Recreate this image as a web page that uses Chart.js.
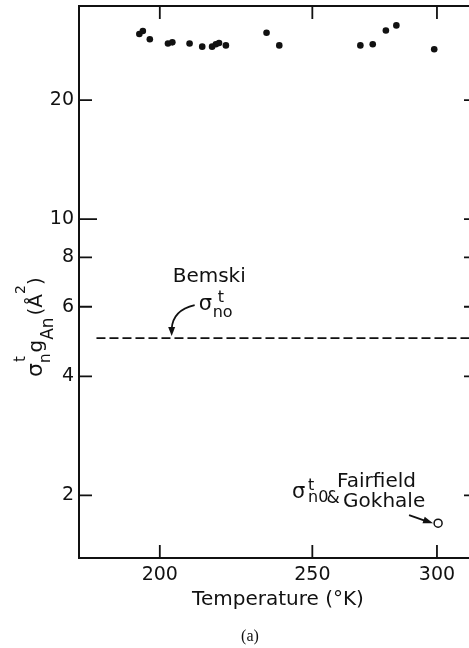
<!DOCTYPE html>
<html>
<head>
<meta charset="utf-8">
<script src="https://cdn.jsdelivr.net/npm/chart.js@4.4.1/dist/chart.umd.min.js"></script>
<style>
  html, body { margin: 0; padding: 0; background: #fff; overflow: hidden; }
  canvas { display: block; }
</style>
</head>
<body>
<canvas id="sigmaChart" width="490" height="648"></canvas>
<script>
// measured points (filled dots)
const tempMeasured = [194.1, 195.1, 197.1, 202.4, 203.7, 208.9, 212.8, 215.9, 217.1, 218.1, 220.3, 233.8, 238.2, 268.2, 273.1, 278.4, 282.7, 298.8];
const sigmaMeasured = [29.4, 29.9, 28.5, 27.8, 28.0, 27.8, 27.3, 27.3, 27.7, 27.9, 27.5, 29.6, 27.5, 27.5, 27.7, 30.0, 30.9, 26.9];

// Bemski value (dashed line)
const bemskiTemp = [182.3, 318];
const bemskiSigma = [5.0, 5.0];

// Fairfield & Gokhale (open circle)
const fgTemp = [300.5];
const fgSigma = [1.70];

const xTicks = [200, 250, 300];
const yTicks = [2, 4, 6, 8, 10, 20];
const xRange = [177.7, 318.1];
const yRange = [1.388, 34.6];

const INK = "#111";
const FONT = "DejaVu Sans";

function pairs(xs, ys) {
  return xs.map((v, i) => ({ x: v, y: ys[i] }));
}

function text(ctx, s, x, y, size) {
  ctx.font = size + 'px "' + FONT + '"';
  ctx.fillText(s, x, y);
  return ctx.measureText(s).width;
}

function arrowHead(ctx, x, y, angle, len, half) {
  ctx.save();
  ctx.translate(x, y);
  ctx.rotate(angle);
  ctx.beginPath();
  ctx.moveTo(0, 0);
  ctx.lineTo(-len, -half);
  ctx.lineTo(-len, half);
  ctx.closePath();
  ctx.fill();
  ctx.restore();
}

// frame and inward ticks on all four sides
const framePlugin = {
  id: "frame",
  afterDatasetsDraw(chart) {
    const { ctx, chartArea: a, scales: { x, y } } = chart;
    ctx.save();
    ctx.strokeStyle = INK;
    ctx.lineWidth = 2;
    ctx.strokeRect(a.left, a.top, a.right - a.left, a.bottom - a.top);
    ctx.lineWidth = 1.8;
    ctx.beginPath();
    xTicks.forEach(v => {
      const px = x.getPixelForValue(v);
      ctx.moveTo(px, a.bottom); ctx.lineTo(px, a.bottom - 13);
      ctx.moveTo(px, a.top); ctx.lineTo(px, a.top + 13);
    });
    yTicks.forEach(v => {
      const py = y.getPixelForValue(v);
      const len = v === 10 ? 18 : 13;
      ctx.moveTo(a.left, py); ctx.lineTo(a.left + len, py);
      ctx.moveTo(a.right, py); ctx.lineTo(a.right - 13, py);
    });
    ctx.stroke();
    ctx.restore();
  }
};

// labels, arrows, rotated y title and caption
const notesPlugin = {
  id: "notes",
  afterDraw(chart) {
    const { ctx, scales: { x, y } } = chart;
    ctx.save();
    ctx.fillStyle = INK;
    ctx.strokeStyle = INK;
    ctx.textBaseline = "alphabetic";
    ctx.textAlign = "left";

    // Bemski label
    const bx = x.getPixelForValue(203.5), by = y.getPixelForValue(bemskiSigma[0]);
    text(ctx, "Bemski", bx + 1, by - 56, 20);
    text(ctx, "σ", bx + 27, by - 28, 21);
    text(ctx, "t", bx + 46, by - 36, 16);
    text(ctx, "no", bx + 41, by - 21, 16);
    ctx.lineWidth = 1.8;
    ctx.beginPath();
    ctx.moveTo(bx + 23, by - 33);
    ctx.quadraticCurveTo(bx + 1, by - 28, bx, by - 9);
    ctx.stroke();
    arrowHead(ctx, bx, by - 2, Math.PI / 2, 9, 3.5);

    // Fairfield & Gokhale label
    const fx = x.getPixelForValue(fgTemp[0]), fy = y.getPixelForValue(fgSigma[0]);
    text(ctx, "Fairfield", fx - 101, fy - 36, 20);
    text(ctx, "Gokhale", fx - 95, fy - 16, 20);
    text(ctx, "σ", fx - 146, fy - 25, 21);
    text(ctx, "t", fx - 130, fy - 33, 16);
    const w = text(ctx, "n0", fx - 130, fy - 21, 16);
    text(ctx, "&", fx - 130 + w - 2, fy - 20, 17);
    ctx.beginPath();
    ctx.moveTo(fx - 29, fy - 8);
    ctx.lineTo(fx - 12, fy - 2);
    ctx.stroke();
    arrowHead(ctx, fx - 5, fy, Math.atan2(8, 24), 10, 3.5);

    // y axis title, rotated
    ctx.save();
    ctx.translate(42, 377);
    ctx.rotate(-Math.PI / 2);
    let cx = 0;
    cx += text(ctx, "σ", cx, 0, 22);
    const tw = text(ctx, "t", cx + 1, -17, 15);
    cx += Math.max(tw, text(ctx, "n", cx, 8, 15)) + 1;
    cx += text(ctx, "g", cx, 0, 20);
    cx += text(ctx, "An", cx, 11, 17) + 2;
    cx += text(ctx, "(", cx, 0, 20);
    cx += text(ctx, "Å", cx, 0, 20);
    cx += text(ctx, "2", cx, -17, 14);
    text(ctx, ")", cx, 0, 20);
    ctx.restore();

    // caption
    ctx.textAlign = "center";
    ctx.font = '16px "Liberation Serif"';
    ctx.fillText("(a)", 250, 641);
    ctx.restore();
  }
};

const ctx = document.getElementById("sigmaChart").getContext("2d");
Chart.defaults.font.family = FONT;
Chart.defaults.color = INK;

new Chart(ctx, {
  type: "scatter",
  data: {
    datasets: [
      {
        label: "Bemski",
        data: pairs(bemskiTemp, bemskiSigma),
        showLine: true,
        borderColor: INK,
        borderWidth: 1.8,
        borderDash: [9, 4],
        pointRadius: 0,
        fill: false,
      },
      {
        label: "measured",
        data: pairs(tempMeasured, sigmaMeasured),
        backgroundColor: INK,
        borderColor: INK,
        pointRadius: 3.3,
        borderWidth: 0,
      },
      {
        label: "Fairfield & Gokhale",
        data: pairs(fgTemp, fgSigma),
        backgroundColor: "#fff",
        borderColor: INK,
        borderWidth: 1.5,
        pointRadius: 4,
      },
    ],
  },
  options: {
    responsive: false,
    animation: false,
    layout: { padding: { left: 0, top: 6, right: 13, bottom: 0 } },
    plugins: {
      legend: { display: false },
      tooltip: { enabled: false },
    },
    scales: {
      x: {
        type: "logarithmic",
        min: xRange[0],
        max: xRange[1],
        afterBuildTicks: s => { s.ticks = xTicks.map(v => ({ value: v })); },
        afterFit: s => { s.height = 90; s.paddingLeft = 0; s.paddingRight = 0; },
        grid: { display: false, drawTicks: false },
        border: { display: false },
        ticks: {
          autoSkip: false,
          maxRotation: 0,
          padding: 6,
          font: { size: 19 },
          callback: v => String(v),
        },
        title: {
          display: true,
          text: "Temperature (°K)",
          font: { size: 20 },
          padding: { top: 0, bottom: 36 },
        },
      },
      y: {
        type: "logarithmic",
        min: yRange[0],
        max: yRange[1],
        afterBuildTicks: s => { s.ticks = yTicks.map(v => ({ value: v })); },
        afterFit: s => { s.width = 79; s.paddingTop = 0; s.paddingBottom = 0; },
        grid: { display: false, drawTicks: false },
        border: { display: false },
        ticks: {
          autoSkip: false,
          padding: 5,
          font: { size: 19 },
          callback: v => String(v),
        },
      },
    },
  },
  plugins: [framePlugin, notesPlugin],
});
</script>
</body>
</html>
